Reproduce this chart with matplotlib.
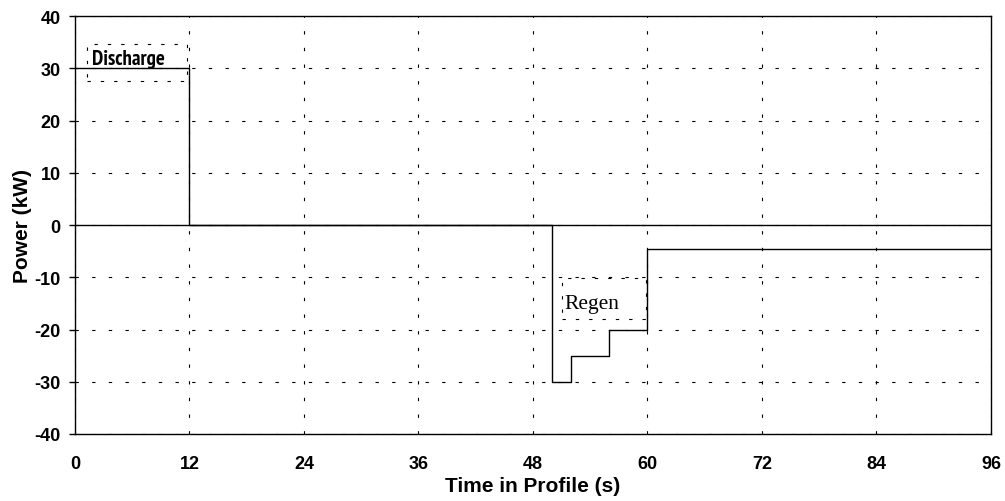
import numpy as np
from matplotlib import pyplot as plt
from matplotlib.patches import Rectangle
from matplotlib import font_manager

plt.rcParams['font.family'] = ['Liberation Sans', 'DejaVu Sans']
plt.rcParams['axes.unicode_minus'] = False

# ступенчатый профиль мощности: время начала шага и мощность на шаге
t_steps = [0, 12, 50, 52, 56, 60, 96]
p_steps = [30, 0, -30, -25, -20, -4.5, -4.5]

x_ticks = [0, 12, 24, 36, 48, 60, 72, 84, 96]
y_ticks = [-40, -30, -20, -10, 0, 10, 20, 30, 40]


def first_font(candidates, min_weight=0):
    # первое установленное семейство из списка с нужной жирностью
    have = {}
    for f in font_manager.fontManager.ttflist:
        w = f.weight if isinstance(f.weight, int) else 700 if f.weight == 'bold' else 400
        if f.style == 'normal':
            have.setdefault(f.name, set()).add(w)
    for name in candidates:
        if name in have and max(have[name]) >= min_weight:
            return name
    return None


narrow_sans = first_font(['Liberation Sans Narrow', 'Arial Narrow', 'Archivo Narrow',
                          'PT Sans Narrow', 'Roboto Condensed', 'Open Sans Condensed'], 700)

fig = plt.figure(figsize=(10.05, 5.02), dpi=100)
ax = fig.add_axes([0.0746, 0.1335, 0.9114, 0.8325])

# оси и сетка
ax.set_xlim(0, 96)
ax.set_ylim(-40, 40)
ax.set_xticks(x_ticks)
ax.set_yticks(y_ticks)
ax.grid(True, color='black', linestyle=(0, (3, 12)), linewidth=0.8)
ax.tick_params(direction='out', length=4.3, width=1, colors='black')
ax.tick_params(axis='x', length=0, pad=15)
ax.tick_params(axis='y', pad=6)
for lbl in ax.get_xticklabels() + ax.get_yticklabels():
    lbl.set_fontweight('bold')
    lbl.set_fontsize(13)
for sp in ax.spines.values():
    sp.set_color('black')
    sp.set_linewidth(1.0)

# линия нуля
ax.axhline(0, color='black', linewidth=1.0)

# сам профиль
ax.step(t_steps, p_steps, where='post', color='black', linewidth=1.0, zorder=3)

# подписи с пунктирной рамкой
box_kw = dict(fill=False, ec='black', linestyle=(0, (3, 9)), linewidth=0.8)
ax.add_patch(Rectangle((1.3, 27.6), 10.4, 7.0, **box_kw))
ax.add_patch(Rectangle((51.0, -18.0), 8.8, 7.9, **box_kw))

if narrow_sans:
    ax.text(1.75, 30.9, 'Discharge', ha='left', va='baseline', fontsize=15,
            fontweight='bold', family=narrow_sans)
else:
    ax.text(1.75, 30.9, 'Discharge', ha='left', va='baseline', fontsize=11,
            fontweight='bold')
ax.text(51.3, -15.8, 'Regen', ha='left', va='baseline', fontsize=15.5,
        family='Liberation Serif')

ax.set_xlabel('Time in Profile (s)', fontsize=15, fontweight='bold', labelpad=3)
ax.set_ylabel('Power (kW)', fontsize=15, fontweight='bold', labelpad=2)

fig.savefig('out.png', dpi=100)
